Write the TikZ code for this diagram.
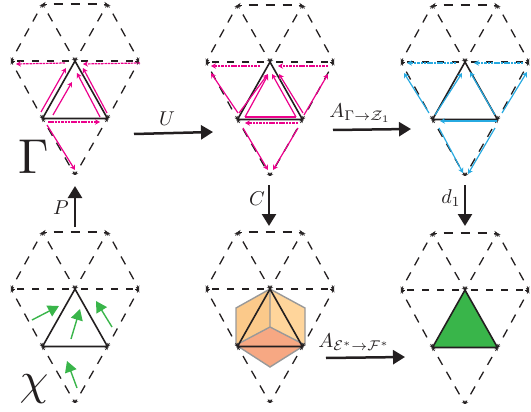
\documentclass[tikz,border=0pt]{standalone}
\usepackage{amsmath}
\usetikzlibrary{arrows.meta,calc}
\definecolor{inkblack}{HTML}{231F20}
\definecolor{fluxpink}{HTML}{EC008C}
\definecolor{fluxblue}{HTML}{27AAE1}
\definecolor{fluxgreen}{HTML}{39B54A}
\tikzset{
  latedge/.style={inkblack,line width=1.3pt,dash pattern=on 9pt off 8pt,shorten <=11pt,shorten >=11pt},
  lathoriz/.style={inkblack,line width=1.3pt,dash pattern=on 7pt off 8pt,shorten <=6pt,shorten >=6pt},
  lattip/.style={inkblack,line width=0.8pt,-{Stealth[length=3pt,width=4pt]}},
  solidedge/.style={inkblack,line width=1.6pt,line join=miter},
  mapto/.style={inkblack,line width=2.5pt,-{Triangle[length=12pt,width=14pt]}},
  pinkflux/.style={fluxpink,line width=1.2pt,-{Stealth[length=5pt,width=5.5pt]}},
  pinkdash/.style={pinkflux,dash pattern=on 2.5pt off 0.8pt},
  blueflux/.style={fluxblue,line width=1.2pt,-{Stealth[length=5pt,width=5.5pt]}},
  bluedash/.style={blueflux,dash pattern=on 2.5pt off 0.8pt},
  greenflux/.style={fluxgreen,line width=1.4pt,-{Triangle[length=11pt,width=12pt]}},
  maplabel/.style={inkblack,scale=2,inner sep=0pt},
}
\newcommand{\latticefig}[3]{%
  \coordinate (#1c) at (#2,#3);
  \coordinate (#1tl) at (#2-32.5,#3-57);
  \coordinate (#1tr) at (#2+32.5,#3-57);
  \coordinate (#1l) at (#2-64,#3);
  \coordinate (#1r) at (#2+64,#3);
  \coordinate (#1bl) at (#2-32.5,#3+57.5);
  \coordinate (#1br) at (#2+32.5,#3+57.5);
  \coordinate (#1b) at (#2,#3+114);
  \foreach \ea/\eb in {tl/tr,tl/c,tr/c,tl/l,tr/r,l/bl,r/br,bl/b,br/b}{
    \draw[latedge] (#1\ea)--(#1\eb);
    \draw[lattip] ($(#1\ea)!4pt!(#1\eb)$)--(#1\ea);
    \draw[lattip] ($(#1\eb)!4pt!(#1\ea)$)--(#1\eb);
  }
  \draw[lathoriz] (#1c)--(#1l);
  \draw[lathoriz] (#1c)--(#1r);
  \draw[lattip] ($(#1l)!4pt!(#1c)$)--(#1l);
  \draw[lattip] ($(#1r)!4pt!(#1c)$)--(#1r);
}
\begin{document}
\begin{tikzpicture}[x=1pt,y=-1pt]
\useasboundingbox (0,0) rectangle (531,412);

% cube sits under the lattice
\coordinate (cubet) at (270,289); \coordinate (cubeur) at (305,308);
\coordinate (cubelr) at (305,345); \coordinate (cubeb) at (270,367);
\coordinate (cubell) at (236,345); \coordinate (cubeul) at (236,308);
\coordinate (cubem) at (270,327);
\fill[color={rgb,255:red,251;green,201;blue,138}] (cubet)--(cubem)--(cubell)--(cubeul)--cycle;
\fill[color={rgb,255:red,255;green,213;blue,155}] (cubet)--(cubem)--(cubelr)--(cubeur)--cycle;
\fill[color={rgb,255:red,247;green,168;blue,131}] (cubem)--(cubelr)--(cubeb)--(cubell)--cycle;
\draw[gray!80,line width=1.4pt] (cubet)--(cubeur)--(cubelr)--(cubeb)--(cubell)--(cubeul)--cycle;
\draw[gray!80,line width=1.4pt] (cubet)--(cubem) (cubell)--(cubem)--(cubelr);

\latticefig{ga}{75}{61}
\latticefig{gb}{270}{62}
\latticefig{gc}{465}{62}
\latticefig{xa}{75}{289}
\latticefig{xb}{270}{289}
\latticefig{xc}{465}{290}

% solid triangles
\fill[fluxgreen] (xcc)--(xcbl)--(xcbr)--cycle;
\foreach \fig in {ga,gb,gc,xa,xb,xc}
  \draw[solidedge] (\fig c)--(\fig bl)--(\fig br)--cycle;

% flux on gamma
\foreach \xa/\ya/\xb/\yb in {65/63/16/64,140/63/83/64,48/122/100/122}
  \draw[pinkdash] (\xa,\ya)--(\xb,\yb);
\foreach \xa/\ya/\xb/\yb in {41/112/66/68,53/115/72/82,100/117/77/73,107/113/83/68,47/125/75/170}
  \draw[pinkflux] (\xa,\ya)--(\xb,\yb);

% flux after U
\foreach \xa/\ya/\xb/\yb in {260/66/211/66,328/66/278/66,298/123/245/123}
  \draw[pinkdash] (\xa,\ya)--(\xb,\yb);
\foreach \xa/\ya/\xb/\yb in {238/113/211/73,239/113/268/74,245/117/268/75,296/117/272/74,303/113/279/74,304/115/328/74,243/128/268/170,298/128/273/170}
  \draw[pinkflux] (\xa,\ya)--(\xb,\yb);
\draw[fluxpink,line width=1.2pt] (245,117)--(296,117);

% flux in the cycle space
\foreach \xa/\ya/\xb/\yb in {456/63/407/63,523/63/474/63}
  \draw[bluedash] (\xa,\ya)--(\xb,\yb);
\foreach \xa/\ya/\xb/\yb in {429/113/404/73,435/115/462/73,495/115/470/72,502/113/527/72,497/121/440/121,439/128/463/173,495/128/468/174}
  \draw[blueflux] (\xa,\ya)--(\xb,\yb);

% green cochain arrows
\foreach \xa/\ya/\xb/\yb in {32/320/59/306,71/339/80/309,112/327/96/301,77/388/67/361}
  \draw[greenflux] (\xa,\ya)--(\xb,\yb);

% maps between the pictures
\coordinate (Us) at (134,134); \coordinate (Ue) at (213,132);
\coordinate (Ps) at (75,227); \coordinate (Pe) at (75,186);
\coordinate (Cs) at (269,185); \coordinate (Ce) at (269,226);
\coordinate (ds) at (465,185); \coordinate (de) at (465,226);
\coordinate (Ags) at (333,130); \coordinate (Age) at (411,129);
\coordinate (Aes) at (326,358); \coordinate (Aee) at (405,357);
\draw[mapto] (Us)--(Ue);
\draw[mapto] (Ps)--(Pe);
\draw[mapto] (Cs)--(Ce);
\draw[mapto] (ds)--(de);
\draw[mapto] (Ags)--(Age);
\draw[mapto] (Aes)--(Aee);

\node[maplabel] (labU) at (167,119) {$U$};
\node[maplabel] (labP) at (61,208) {$P$};
\node[maplabel] (labC) at (257,199) {$C$};
\node[maplabel] (labd) at (451,198) {$d_1$};
\node[maplabel] (labAg) at (360,113) {$A_{\Gamma\rightarrow\mathcal{Z}_1}$};
\node[maplabel] (labAe) at (354,342) {$A_{\mathcal{E}^*\rightarrow\mathcal{F}^*}$};
\node[inkblack,scale=4.9,inner sep=0pt] (labGamma) at (34,157) {$\Gamma$};
\node[inkblack,scale=4.6,inner sep=0pt] (labchi) at (34,389) {$\chi$};
\end{tikzpicture}
\end{document}
